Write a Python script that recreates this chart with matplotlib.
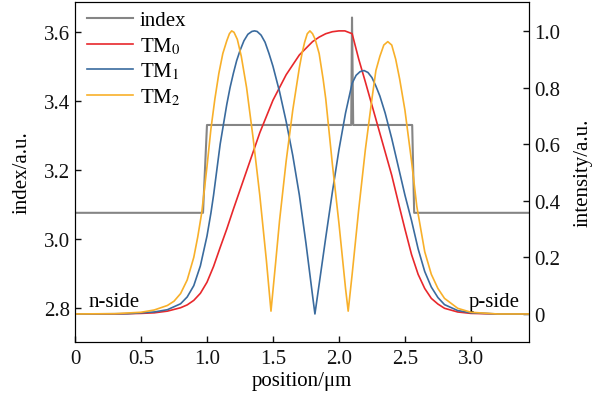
import matplotlib.pyplot as plt
import numpy as np

plt.rcParams['font.family'] = ['Liberation Serif', 'DejaVu Serif']
plt.rcParams['mathtext.fontset'] = 'stix'

# refractive index profile (left axis)
x_index = [0.0, 0.97, 1.0, 2.093, 2.099, 2.108, 2.555, 2.57, 3.44]
n_index = [3.075, 3.075, 3.33, 3.33, 3.642, 3.33, 3.33, 3.075, 3.075]

# mode intensities (right axis)
x_tm0 = [0.0, 0.3, 0.5, 0.6, 0.7, 0.8, 0.85, 0.9, 0.95, 1.0, 1.05, 1.1, 1.15,
         1.2, 1.3, 1.4, 1.5, 1.6, 1.7, 1.8, 1.85, 1.9, 1.95, 2.0, 2.045, 2.1,
         2.15, 2.2, 2.3, 2.4, 2.46, 2.5, 2.55, 2.6, 2.65, 2.7, 2.75, 2.8, 2.9,
         3.0, 3.2, 3.44]
tm0 = [0.0, 0.0, 0.002, 0.004, 0.01, 0.022, 0.032, 0.048, 0.073, 0.112, 0.168,
       0.235, 0.3, 0.37, 0.505, 0.64, 0.755, 0.845, 0.915, 0.962, 0.978, 0.99,
       0.997, 1.0, 1.0, 0.99, 0.9, 0.82, 0.655, 0.49, 0.375, 0.3, 0.21, 0.14,
       0.09, 0.055, 0.035, 0.02, 0.007, 0.002, 0.0, 0.0]

x_tm1 = [0.0, 0.4, 0.6, 0.7, 0.8, 0.85, 0.9, 0.95, 1.0, 1.03, 1.05, 1.1, 1.15,
         1.175, 1.2, 1.225, 1.25, 1.28, 1.31, 1.34, 1.36, 1.38, 1.41, 1.44,
         1.47, 1.5, 1.55, 1.6, 1.65, 1.7, 1.75, 1.8, 1.818, 1.85, 1.9, 1.95,
         2.0, 2.05, 2.1, 2.13, 2.16, 2.19, 2.22, 2.25, 2.28, 2.31, 2.35, 2.4,
         2.45, 2.5, 2.55, 2.6, 2.65, 2.7, 2.75, 2.8, 2.9, 3.0, 3.2, 3.44]
tm1 = [0.0, 0.001, 0.007, 0.015, 0.036, 0.06, 0.1, 0.17, 0.275, 0.357, 0.42,
       0.6, 0.74, 0.8, 0.85, 0.895, 0.93, 0.965, 0.988, 0.998, 1.0, 0.998,
       0.985, 0.96, 0.92, 0.875, 0.785, 0.68, 0.56, 0.42, 0.25, 0.065, 0.0,
       0.105, 0.27, 0.43, 0.58, 0.71, 0.815, 0.843, 0.856, 0.86, 0.853, 0.835,
       0.805, 0.77, 0.71, 0.62, 0.52, 0.42, 0.33, 0.23, 0.15, 0.095, 0.058,
       0.033, 0.012, 0.004, 0.0, 0.0]

x_tm2 = [0.0, 0.3, 0.5, 0.6, 0.7, 0.75, 0.8, 0.85, 0.9, 0.93, 0.96, 1.0, 1.03,
         1.06, 1.09, 1.12, 1.15, 1.17, 1.187, 1.205, 1.23, 1.26, 1.3, 1.35,
         1.4, 1.45, 1.485, 1.52, 1.55, 1.6, 1.65, 1.7, 1.72, 1.74, 1.76, 1.78,
         1.8, 1.82, 1.85, 1.88, 1.9, 1.95, 2.0, 2.05, 2.07, 2.1, 2.15, 2.2,
         2.25, 2.28, 2.31, 2.34, 2.37, 2.4, 2.43, 2.46, 2.5, 2.55, 2.59, 2.65,
         2.7, 2.75, 2.8, 2.9, 3.0, 3.2, 3.44]
tm2 = [0.0, 0.001, 0.006, 0.014, 0.03, 0.045, 0.072, 0.12, 0.2, 0.272, 0.357,
       0.52, 0.654, 0.76, 0.85, 0.92, 0.965, 0.99, 1.0, 0.995, 0.97, 0.91,
       0.8, 0.62, 0.42, 0.19, 0.01, 0.18, 0.33, 0.54, 0.72, 0.87, 0.92, 0.96,
       0.99, 1.0, 0.99, 0.97, 0.92, 0.83, 0.76, 0.53, 0.32, 0.09, 0.01, 0.14,
       0.37, 0.58, 0.76, 0.86, 0.91, 0.95, 0.962, 0.95, 0.9, 0.83, 0.72, 0.54,
       0.38, 0.22, 0.14, 0.09, 0.055, 0.02, 0.006, 0.0, 0.0]

fig = plt.figure(figsize=(6.02, 4.02), dpi=100)
ax = fig.add_axes([0.1246, 0.1468, 0.7541, 0.8457])
ax2 = ax.twinx()

l0, = ax.plot(x_index, n_index, color='#858585', lw=1.5, label='index')
l1, = ax2.plot(x_tm0, tm0, color='#e8282c', lw=1.2, label='TM$_0$')
l2, = ax2.plot(x_tm1, tm1, color='#3a6b9e', lw=1.2, label='TM$_1$')
l3, = ax2.plot(x_tm2, tm2, color='#f8b02a', lw=1.2, label='TM$_2$')

ax.set_xlim(0, 3.44)
ax.set_ylim(2.70, 3.687)
ax2.set_ylim(-0.099, 1.102)

ax.set_xticks([0, 0.5, 1.0, 1.5, 2.0, 2.5, 3.0])
ax.set_xticklabels(['0', '0.5', '1.0', '1.5', '2.0', '2.5', '3.0'])
ax.set_yticks([2.8, 3.0, 3.2, 3.4, 3.6])
ax2.set_yticks([0, 0.2, 0.4, 0.6, 0.8, 1.0])
ax2.set_yticklabels(['0', '0.2', '0.4', '0.6', '0.8', '1.0'])

for a in (ax, ax2):
    a.tick_params(direction='in', length=4, width=1, labelsize=15, colors='#111111')
ax.tick_params(axis='x', pad=5)

ax.set_xlabel('position/μm', fontsize=15, labelpad=2)
ax.set_ylabel('index/a.u.', fontsize=15, labelpad=9)
ax2.set_ylabel('intensity/a.u.', fontsize=15, labelpad=10)

ax.text(0.1, 2.79, 'n-side', fontsize=15, va='bottom')
ax.text(2.98, 2.79, 'p-side', fontsize=15, va='bottom')

ax.legend(handles=[l0, l1, l2, l3], loc='upper left', frameon=False,
          fontsize=15, handlelength=2.2, labelspacing=0.25,
          borderaxespad=0.0, handletextpad=0.3,
          bbox_to_anchor=(0.009, 1.0))

fig.savefig('out.png', dpi=100)
